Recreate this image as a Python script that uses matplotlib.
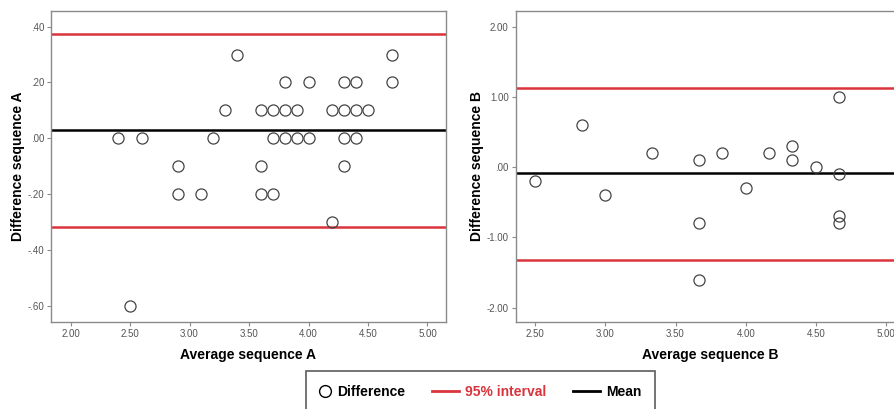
import matplotlib
matplotlib.use("Agg")
import matplotlib.pyplot as plt
from matplotlib.lines import Line2D
from matplotlib.legend_handler import HandlerLine2D

plt.rcParams['font.family'] = ['Liberation Sans', 'DejaVu Sans']

# ---- data: sequence A ----
avg_a = [3.4, 4.7,
         3.8, 4.0, 4.3, 4.4, 4.7,
         3.3, 3.6, 3.7, 3.8, 3.9, 4.2, 4.3, 4.4, 4.5,
         2.4, 2.6, 3.2, 3.7, 3.8, 3.9, 4.0, 4.3, 4.4,
         2.9, 3.6, 4.3,
         2.9, 3.1, 3.6, 3.7,
         4.2,
         2.5]
diff_a = [0.3, 0.3,
          0.2, 0.2, 0.2, 0.2, 0.2,
          0.1, 0.1, 0.1, 0.1, 0.1, 0.1, 0.1, 0.1, 0.1,
          0.0, 0.0, 0.0, 0.0, 0.0, 0.0, 0.0, 0.0, 0.0,
          -0.1, -0.1, -0.1,
          -0.2, -0.2, -0.2, -0.2,
          -0.3,
          -0.6]
mean_a = 0.029
upper_a = 0.374
lower_a = -0.317

# ---- data: sequence B ----
avg_b = [2.5, 2.833, 3.0, 3.333, 3.667, 3.667, 3.667, 3.833, 4.0, 4.167,
         4.333, 4.333, 4.5, 4.667, 4.667, 4.667, 4.667]
diff_b = [-0.2, 0.6, -0.4, 0.2, 0.1, -0.8, -1.6, 0.2, -0.3, 0.2,
          0.3, 0.1, 0.0, 1.0, -0.1, -0.7, -0.8]
mean_b = -0.085
upper_b = 1.125
lower_b = -1.324

xticks_a = [2.0, 2.5, 3.0, 3.5, 4.0, 4.5, 5.0]
xticklabels_a = ['2.00', '2.50', '3.00', '3.50', '4.00', '4.50', '5.00']
yticks_a = [-0.6, -0.4, -0.2, 0.0, 0.2, 0.4]
yticklabels_a = ['-.60', '-.40', '-.20', '.00', '.20', '.40']
xticks_b = [2.5, 3.0, 3.5, 4.0, 4.5, 5.0]
xticklabels_b = ['2.50', '3.00', '3.50', '4.00', '4.50', '5.00']
yticks_b = [-2.0, -1.0, 0.0, 1.0, 2.0]
yticklabels_b = ['-2.00', '-1.00', '.00', '1.00', '2.00']

legend_labels = ['Difference', '95% interval', 'Mean']

RED = '#d9343c'
SPINE = '#8a8a8a'
TICKC = '#555555'

fig = plt.figure(figsize=(8.94, 4.09), dpi=100)
ax1 = fig.add_axes([0.057, 0.2134, 0.4418, 0.7597])
ax2 = fig.add_axes([0.5768, 0.2134, 0.4346, 0.7597])


def style(ax, xt, xtl, yt, ytl, xlim, ylim, xlabel, ylabel, ylab_x):
    ax.set_xlim(*xlim)
    ax.set_ylim(*ylim)
    ax.set_xticks(xt)
    ax.set_xticklabels(xtl)
    ax.set_yticks(yt)
    ax.set_yticklabels(ytl)
    for s in ax.spines.values():
        s.set_color(SPINE)
        s.set_linewidth(1.0)
    ax.tick_params(axis='both', length=3, width=0.8, color=SPINE,
                   labelsize=7, labelcolor=TICKC, pad=2)
    ax.set_xlabel(xlabel, fontsize=10, fontweight='bold', labelpad=7)
    ax.set_ylabel(ylabel, fontsize=10, fontweight='bold')
    ax.yaxis.set_label_coords(ylab_x, 0.5)


def draw(ax, x, y, mean, up, lo):
    ax.axhline(up, color=RED, lw=1.8, zorder=2)
    ax.axhline(lo, color=RED, lw=1.8, zorder=2)
    ax.axhline(mean, color='black', lw=1.8, zorder=2)
    ax.plot(x, y, linestyle='none', marker='o', markersize=8,
            markerfacecolor='none', markeredgecolor='#444444',
            markeredgewidth=0.9, zorder=3)


draw(ax1, avg_a, diff_a, mean_a, upper_a, lower_a)
style(ax1, xticks_a, xticklabels_a, yticks_a, yticklabels_a,
      (1.835, 5.155), (-0.657, 0.456),
      'Average sequence A', 'Difference sequence A', -0.066)

draw(ax2, avg_b, diff_b, mean_b, upper_b, lower_b)
style(ax2, xticks_b, xticklabels_b, yticks_b, yticklabels_b,
      (2.36, 5.13), (-2.2, 2.223),
      'Average sequence B', 'Difference sequence B', -0.082)


class LongLineHandler(HandlerLine2D):
    """Line handle extended to the left of the (short) handle box."""
    def get_xdata(self, legend, xdescent, ydescent, width, height, fontsize):
        xdata, xdata_marker = super().get_xdata(legend, xdescent, ydescent,
                                                width, height, fontsize)
        ext = 11.0
        return [-xdescent - ext, -xdescent + width], xdata_marker


handles = [
    Line2D([], [], linestyle='none', marker='o', markersize=8.5,
           markerfacecolor='none', markeredgecolor='black', markeredgewidth=1.0),
    Line2D([], [], color=RED, lw=2),
    Line2D([], [], color='black', lw=2),
]
leg = fig.legend(handles, legend_labels, loc='upper center', ncol=3,
                 bbox_to_anchor=(0.5375, 0.093), borderaxespad=0,
                 frameon=True, fancybox=False,
                 edgecolor='#333333', handlelength=0.85,
                 handletextpad=0.45, columnspacing=3.0, borderpad=1.0,
                 prop={'weight': 'bold', 'size': 10},
                 handler_map={handles[1]: LongLineHandler(),
                              handles[2]: LongLineHandler()})
leg.get_frame().set_linewidth(1.2)
for t, c in zip(leg.get_texts(), ['black', RED, 'black']):
    t.set_color(c)

fig.savefig('out.png', dpi=100)
